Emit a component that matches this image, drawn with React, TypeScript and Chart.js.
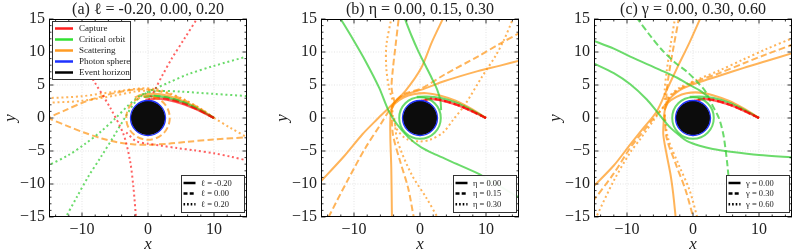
import React, { useEffect, useRef } from "react";
import { Chart, registerables } from "chart.js";
Chart.register(...registerables);

type Pt = [number, number];

// ---------- axes ----------
const axisMin = -15;
const axisMax = 15;
const xMajor = [-10, 0, 10];
const xMinor = [-14, -12, -8, -6, -4, -2, 2, 4, 6, 8, 12, 14];
const yMajor = [-15, -10, -5, 0, 5, 10, 15];
const yMinor = [-14, -13, -12, -11, -9, -8, -7, -6, -4, -3, -2, -1, 1, 2, 3, 4, 6, 7, 8, 9, 11, 12, 13, 14];
const gridValues = [-10, -5, 0, 5, 10];

// ---------- texts ----------
const panelTitles = ["(a) ℓ = -0.20, 0.00, 0.20", "(b) η = 0.00, 0.15, 0.30", "(c) γ = 0.00, 0.30, 0.60"];
const paramLabelsA = ["ℓ = -0.20", "ℓ = 0.00", "ℓ = 0.20"];
const paramLabelsB = ["η = 0.00", "η = 0.15", "η = 0.30"];
const paramLabelsC = ["γ = 0.00", "γ = 0.30", "γ = 0.60"];
const typeLabels = ["Capture", "Critical orbit", "Scattering", "Photon sphere", "Event horizon"];

// ---------- black hole radii ----------
const horizonRadius = 2.6;
const photonRadius = 2.65;
const aOrbitRingRadius = 3.3;
const bOrbitRingRadius = 3.15;
const cOrbitRingRadius = 3.15;

// ---------- panel (a) ----------
const aCapSolid: Pt[] = [[10, 0], [8, 1.0], [5.5, 2.05], [3, 2.75], [1.2, 2.95], [0, 2.75]];
const aCapDashed: Pt[] = [[10, 0], [8, 1.05], [5.5, 2.15], [3, 2.85], [1, 3.0], [-0.4, 2.75]];
const aCapDotted1: Pt[] = [[7.6, 15.3], [5.5, 12], [3.6, 9], [2.2, 6.5], [1.0, 4.2], [0.3, 2.9]];
const aCapDotted2: Pt[] = [[-10.3, 9], [-8.2, 5.6], [-5.7, 1.5], [-3.7, -2.5], [-2.7, -6.6], [-2.2, -10.6], [-1.8, -15.3]];
const aCapDotted3: Pt[] = [[-3.3, -2.2], [-1.8, -3.5], [0, -3.9], [2, -4.2], [4.4, -4.55], [7, -4.9], [10, -5.35], [12.5, -5.85], [15.3, -6.5]];
const aCritSolid: Pt[] = [[10, 0], [8, 1.12], [5.5, 2.3], [3, 3.05], [1, 3.3], [-0.6, 3.2]];
const aCritDashed: Pt[] = [[10, 0], [8, 1.15], [5.5, 2.35], [3, 3.1], [1, 3.35], [-0.8, 3.2]];
const aCritDotted1: Pt[] = [[-15.3, -7.3], [-12, -5.6], [-9.5, -3.9], [-7.2, -2.1], [-5, -0.1], [-3, 1.9], [-1.5, 3.2], [0.5, 4.2], [3, 5.3], [6, 6.6], [10, 7.9], [15.3, 9.4]];
const aCritDotted2: Pt[] = [[-12.6, -15.3], [-10.8, -12], [-9, -8.8], [-7.2, -6], [-5.2, -2.8], [-3.4, 0.2], [-1.8, 2.6], [-0.2, 3.8], [2, 4.1], [5, 4.0], [10, 3.65], [15.3, 3.3]];
const aScatSolid: Pt[] = [[10, 0], [8, 1.25], [5.4, 2.55], [3, 3.35], [1, 3.65], [-1, 3.5], [-2, 3.1]];
const aScatDashed1: Pt[] = [[10, 0], [8, 1.35], [5.4, 2.75], [3, 3.7], [1, 4.2], [-1, 4.35], [-3, 4.2], [-4.7, 3.85], [-7, 3.3], [-9.7, 2.4], [-12.5, 1.2], [-15.3, -0.05]];
const aScatDashed2: Pt[] = [[-15.3, 0.05], [-12, -1.3], [-9.7, -2.2], [-7, -3.1], [-4.5, -3.7], [-2, -4.0], [0, -4.05], [3, -3.9], [6, -3.6], [10, -3.25], [15.3, -2.9]];
const aScatDotted1: Pt[] = [[10, 0], [8, 1.4], [5.4, 2.85], [3, 3.85], [1, 4.4], [-1, 4.5], [-5, 4.0], [-10, 3.3], [-15.3, 3.0]];
const aScatDotted2: Pt[] = [[1, 4.25], [-2, 4.0], [-5, 3.4], [-10, 2.6], [-15.3, 2.3]];
const aScatDotted3: Pt[] = [[10, 0], [12.5, -1.5], [15.3, -3.1]];

// ---------- panel (b) ----------
const bCapSolid: Pt[] = [[10, 0], [8, 0.95], [5.5, 2.0], [3, 2.7], [1.5, 2.85], [0.4, 2.65]];
const bCapDashed: Pt[] = [[10, 0], [8, 0.97], [5.5, 2.03], [3, 2.74], [1.5, 2.88], [0.3, 2.65]];
const bCapDotted: Pt[] = [[10, 0], [8, 0.99], [5.5, 2.06], [3, 2.78], [1.5, 2.92], [0.2, 2.65]];
const bCritArc: Pt[] = [[10, 0], [8, 1.1], [5.5, 2.3], [3, 3.05], [1, 3.25], [-0.5, 3.2]];
const bCritSolid1: Pt[] = [[-12.2, 15.3], [-10.2, 12], [-8.25, 8.6], [-6.2, 4.6], [-4.8, 1.2], [-3.6, -0.8], [-1.8, -2.9], [0.25, -4.5], [2.5, -5.6], [4.75, -6.6], [8.75, -8.4], [12, -10.3], [15.3, -12.2]];
const bCritSolid2: Pt[] = [[-2.4, 15.3], [-1.3, 12.5], [-0.25, 10.1], [0.9, 7.8], [1.75, 6.1], [2.6, 4.3], [3.1, 2.6], [3.2, 1.2]];
const bScatArc: Pt[] = [[10, 0], [8, 1.25], [5.4, 2.6], [3, 3.4], [1, 3.75], [-1, 3.6], [-2.5, 3.1], [-3.8, 2.2], [-4.4, 1.2]];
const bScatSolid1: Pt[] = [[3.6, 15.3], [1.8, 11.5], [0.2, 7.6], [-2.2, 4.1], [-4.25, 2.0], [-6.5, -0.2], [-8.75, -2.5], [-11.5, -5.8], [-15.3, -9.9]];
const bScatSolid2: Pt[] = [[15.3, 8.75], [12, 7.9], [8.75, 7.1], [3.75, 5.6], [0.25, 4.3], [-2.25, 3.5], [-3.75, 2.5], [-4.4, 1.0], [-4.5, -2.5], [-4.35, -7.6], [-4.25, -15.3]];
const bScatDashed1: Pt[] = [[-3.8, 2.2], [-4.3, 4.5], [-4.1, 7.5], [-3.7, 11], [-3.2, 15.3]];
const bScatDashed2: Pt[] = [[15.3, 13], [12, 11.2], [8.75, 9.3], [3.75, 6.6], [0.25, 4.5], [-2.5, 3.6], [-3.9, 2.4]];
const bScatDashed3: Pt[] = [[-3.9, 2.4], [-6, -1], [-8.25, -4.5], [-11, -9.5], [-14, -15.3]];
const bScatDashed4: Pt[] = [[-4.3, 1.2], [-4.1, -2.5], [-3, -6.6], [-1.8, -10.6], [-0.9, -15.3]];
const bScatDotted1: Pt[] = [[-4.3, 15.3], [-5.1, 11], [-5.1, 7.5], [-4.7, 4.6], [-4.1, 2.5]];
const bScatDotted2: Pt[] = [[14.2, 15.3], [12.8, 12], [11.5, 9.5], [9.3, 6.1], [6.8, 2.0], [5, -0.3], [3.5, -2.2], [1.5, -3.3], [0, -3.55], [-2, -3.2], [-3.5, -1.7], [-4.1, 0.3], [-4.2, 2]];
const bScatDotted3: Pt[] = [[-3.9, 0], [-3.4, -3.5], [-1.25, -8.6], [0.9, -12], [2.8, -15.3]];

// ---------- panel (c) ----------
const cCapSolid: Pt[] = [[10, 0], [8, 0.95], [5.5, 2.0], [3, 2.7], [1.5, 2.85], [0.4, 2.65]];
const cCapDashed: Pt[] = [[10, 0], [8, 0.97], [5.5, 2.03], [3, 2.74], [1.5, 2.88], [0.3, 2.65]];
const cCapDotted: Pt[] = [[10, 0], [8, 0.99], [5.5, 2.06], [3, 2.78], [1.5, 2.92], [0.2, 2.65]];
const cCritArc: Pt[] = [[10, 0], [8, 1.1], [5.5, 2.3], [3, 3.05], [1, 3.25], [-0.5, 3.2]];
const cCritSolid1: Pt[] = [[-15.3, 11.8], [-12, 10.5], [-9.5, 9.3], [-5, 7.3], [-2.4, 6.1], [-0.5, 5.0], [1, 4.2], [2.2, 3.3]];
const cCritSolid2: Pt[] = [[-15.3, 8.4], [-12, 6.8], [-9.5, 5.1], [-7, 2.8], [-5.5, 1.0], [-4.2, -0.6], [-3.4, -1.5], [-2, -2.7], [-0.9, -3.5], [1, -4.2], [3, -4.7], [5.7, -5.1], [10, -5.6], [15.3, -6.0]];
const cCritDashed: Pt[] = [[-8.6, 15.3], [-6.5, 12.5], [-4.5, 10.1], [-2.6, 8.3], [-0.9, 7.0], [0.8, 5.3], [1.9, 4.0], [2.9, 2.0], [3.7, 0.5], [4.1, -0.5], [4.6, -2.5], [4.9, -4.5], [5.2, -7], [5.4, -9.1]];
const cScatArc: Pt[] = [[10, 0], [8, 1.25], [5.4, 2.6], [3, 3.45], [1, 3.85], [-1, 3.75], [-2.5, 3.2], [-3.8, 2.3], [-4.3, 1.2]];
const cScatSolid1: Pt[] = [[1.2, 15.3], [-0.5, 11.5], [-2.4, 7.6], [-4, 4.2], [-5.5, 1.0], [-7.5, -1.5], [-9.5, -4.0], [-12, -7.2], [-15.3, -10.6]];
const cScatSolid2: Pt[] = [[15.3, 9.9], [11, 8.6], [7.7, 7.6], [4, 6.4], [0.6, 5.3], [-1.5, 4.5], [-2.6, 3.8], [-3.6, 2.8], [-4.2, 1.5], [-4.4, 0], [-4.5, -2.5], [-4.0, -5.5], [-3.4, -8.6], [-3, -11.5], [-2.6, -15.3]];
const cScatDashed1: Pt[] = [[-2.1, 15.3], [-2.9, 11], [-3.6, 7], [-4, 4], [-4, 2.4]];
const cScatDashed2: Pt[] = [[15.3, 11.2], [11, 9.6], [7.7, 8.3], [4, 6.8], [0.6, 5.6], [-2, 4.4], [-3.5, 3.2], [-4, 2.2]];
const cScatDashed3: Pt[] = [[-4, 2.2], [-6, -0.1], [-8, -2.6], [-9.5, -4.5], [-12, -8.4], [-15.3, -12.8]];
const cScatDashed4: Pt[] = [[-4.3, 0.5], [-4, -3], [-2.6, -7], [-1.1, -11], [0.1, -15.3]];
const cScatDotted1: Pt[] = [[-2.7, 15.3], [-3.4, 11], [-4, 7], [-4.3, 4], [-4.2, 2.4]];
const cScatDotted2: Pt[] = [[15.3, 12.2], [11, 10.4], [7.7, 8.9], [4, 7.2], [0.6, 5.8], [-2, 4.6], [-3.6, 3.3], [-4.1, 2.2]];
const cScatDotted3: Pt[] = [[-4.1, 2.2], [-6, -0.4], [-8, -3.2], [-9.5, -5.2], [-12, -9.5], [-14.8, -15.3]];
const cScatDotted4: Pt[] = [[-4.3, 0.5], [-3.8, -3], [-2.2, -7], [-0.5, -11], [0.7, -15.3]];

// ---------- styles ----------
const SERIF = "'Liberation Serif', 'DejaVu Serif', serif";
const RED = "rgba(255,0,0,0.62)";
const GREEN = "rgba(50,205,50,0.72)";
const ORANGE = "rgba(255,140,0,0.65)";
const legendColors = ["rgb(255,30,30)", "rgb(50,225,50)", "rgb(255,155,35)", "rgb(30,50,255)", "#000"];
type Style = "solid" | "dashed" | "dotted";
const DASH: Record<Style, number[]> = { solid: [], dashed: [6.5, 3.2], dotted: [2, 2.8] };

function line(label: string, pts: Pt[], color: string, style: Style, width = 2) {
  return {
    label,
    data: pts.map(([x, y]) => ({ x, y })),
    showLine: true,
    borderColor: color,
    backgroundColor: color,
    borderWidth: width,
    borderDash: DASH[style],
    pointRadius: 0,
    pointHoverRadius: 0,
    tension: 0.3,
    fill: false,
    borderCapStyle: "butt",
  };
}

type Ring = { radius: number; color: string; style: Style; width: number };
type PanelSpec = {
  key: string;
  left: number;
  width: number;
  rightPad: number;
  title: string;
  params: string[];
  typeLegend: boolean;
  rings: Ring[];
  datasets: any[];
};

const panels: PanelSpec[] = [
  {
    key: "a", left: 0, width: 250, rightPad: 3, title: panelTitles[0], params: paramLabelsA, typeLegend: true,
    rings: [{ radius: aOrbitRingRadius, color: ORANGE, style: "dashed", width: 2 }],
    datasets: [
      line("Capture", aCapSolid, RED, "solid", 2.2),
      line("Capture", aCapDashed, RED, "dashed", 2.2),
      line("Capture", aCapDotted1, RED, "dotted"),
      line("Capture", aCapDotted2, RED, "dotted"),
      line("Capture", aCapDotted3, RED, "dotted"),
      line("Critical orbit", aCritSolid, GREEN, "solid", 2.2),
      line("Critical orbit", aCritDashed, GREEN, "dashed", 2.2),
      line("Critical orbit", aCritDotted1, GREEN, "dotted"),
      line("Critical orbit", aCritDotted2, GREEN, "dotted"),
      line("Scattering", aScatSolid, ORANGE, "solid", 2.2),
      line("Scattering", aScatDashed1, ORANGE, "dashed"),
      line("Scattering", aScatDashed2, ORANGE, "dashed"),
      line("Scattering", aScatDotted1, ORANGE, "dotted"),
      line("Scattering", aScatDotted2, ORANGE, "dotted"),
      line("Scattering", aScatDotted3, ORANGE, "dotted"),
    ],
  },
  {
    key: "b", left: 272, width: 250, rightPad: 3, title: panelTitles[1], params: paramLabelsB, typeLegend: false,
    rings: [{ radius: bOrbitRingRadius, color: GREEN, style: "solid", width: 2 }],
    datasets: [
      line("Capture", bCapSolid, RED, "solid", 2.2),
      line("Capture", bCapDashed, RED, "dashed", 2.2),
      line("Capture", bCapDotted, RED, "dotted", 2.2),
      line("Critical orbit", bCritArc, GREEN, "solid", 2.2),
      line("Critical orbit", bCritSolid1, GREEN, "solid"),
      line("Critical orbit", bCritSolid2, GREEN, "solid"),
      line("Scattering", bScatArc, ORANGE, "solid", 2.2),
      line("Scattering", bScatSolid1, ORANGE, "solid"),
      line("Scattering", bScatSolid2, ORANGE, "solid"),
      line("Scattering", bScatDashed1, ORANGE, "dashed"),
      line("Scattering", bScatDashed2, ORANGE, "dashed"),
      line("Scattering", bScatDashed3, ORANGE, "dashed"),
      line("Scattering", bScatDashed4, ORANGE, "dashed"),
      line("Scattering", bScatDotted1, ORANGE, "dotted"),
      line("Scattering", bScatDotted2, ORANGE, "dotted"),
      line("Scattering", bScatDotted3, ORANGE, "dotted"),
    ],
  },
  {
    key: "c", left: 545, width: 248, rightPad: 1, title: panelTitles[2], params: paramLabelsC, typeLegend: false,
    rings: [{ radius: cOrbitRingRadius, color: GREEN, style: "solid", width: 2 }],
    datasets: [
      line("Capture", cCapSolid, RED, "solid", 2.2),
      line("Capture", cCapDashed, RED, "dashed", 2.2),
      line("Capture", cCapDotted, RED, "dotted", 2.2),
      line("Critical orbit", cCritArc, GREEN, "solid", 2.2),
      line("Critical orbit", cCritSolid1, GREEN, "solid"),
      line("Critical orbit", cCritSolid2, GREEN, "solid"),
      line("Critical orbit", cCritDashed, GREEN, "dashed"),
      line("Scattering", cScatArc, ORANGE, "solid", 2.2),
      line("Scattering", cScatSolid1, ORANGE, "solid"),
      line("Scattering", cScatSolid2, ORANGE, "solid"),
      line("Scattering", cScatDashed1, ORANGE, "dashed"),
      line("Scattering", cScatDashed2, ORANGE, "dashed"),
      line("Scattering", cScatDashed3, ORANGE, "dashed"),
      line("Scattering", cScatDashed4, ORANGE, "dashed"),
      line("Scattering", cScatDotted1, ORANGE, "dotted"),
      line("Scattering", cScatDotted2, ORANGE, "dotted"),
      line("Scattering", cScatDotted3, ORANGE, "dotted"),
      line("Scattering", cScatDotted4, ORANGE, "dotted"),
    ],
  },
];

const Y_AXIS_WIDTH = 49;
const X_AXIS_HEIGHT = 35;

function fmt(v: number) {
  return v < 0 ? "\u2212" + Math.abs(v) : String(v);
}

function makeDecor(p: PanelSpec) {
  return {
    id: "decor" + p.key,
    beforeDatasetsDraw(chart: any) {
      const { ctx, chartArea: a, scales } = chart;
      ctx.save();
      ctx.strokeStyle = "rgba(0,0,0,0.14)";
      ctx.lineWidth = 0.8;
      ctx.setLineDash([1, 1.6]);
      ctx.beginPath();
      xMajor.forEach((v) => {
        const px = scales.x.getPixelForValue(v);
        ctx.moveTo(px, a.top);
        ctx.lineTo(px, a.bottom);
      });
      gridValues.forEach((v) => {
        const py = scales.y.getPixelForValue(v);
        ctx.moveTo(a.left, py);
        ctx.lineTo(a.right, py);
      });
      ctx.stroke();
      ctx.restore();
    },
    afterDatasetsDraw(chart: any) {
      const { ctx, chartArea: a, scales } = chart;
      const cx = scales.x.getPixelForValue(0);
      const cy = scales.y.getPixelForValue(0);
      const ux = scales.x.getPixelForValue(1) - cx;
      ctx.save();
      ctx.beginPath();
      ctx.rect(a.left, a.top, a.right - a.left, a.bottom - a.top);
      ctx.clip();
      p.rings.forEach((r) => {
        ctx.strokeStyle = r.color;
        ctx.lineWidth = r.width;
        ctx.setLineDash(DASH[r.style]);
        ctx.beginPath();
        ctx.arc(cx, cy, r.radius * ux, 0, Math.PI * 2);
        ctx.stroke();
      });
      ctx.setLineDash([]);
      ctx.fillStyle = "#0c0c0c";
      ctx.beginPath();
      ctx.arc(cx, cy, horizonRadius * ux, 0, Math.PI * 2);
      ctx.fill();
      ctx.strokeStyle = "rgba(20,40,255,0.95)";
      ctx.lineWidth = 1.3;
      ctx.beginPath();
      ctx.arc(cx, cy, photonRadius * ux, 0, Math.PI * 2);
      ctx.stroke();
      ctx.restore();
    },
    afterDraw(chart: any) {
      const { ctx, chartArea: a, scales } = chart;
      ctx.save();
      // frame
      ctx.strokeStyle = "#000";
      ctx.lineWidth = 1;
      ctx.setLineDash([]);
      ctx.strokeRect(a.left + 0.5, a.top + 0.5, a.right - a.left - 1, a.bottom - a.top - 1);
      // inward ticks
      ctx.lineWidth = 0.8;
      ctx.beginPath();
      const tickX = (vals: number[], len: number) =>
        vals.forEach((v) => {
          const px = scales.x.getPixelForValue(v);
          ctx.moveTo(px, a.bottom);
          ctx.lineTo(px, a.bottom - len);
          ctx.moveTo(px, a.top);
          ctx.lineTo(px, a.top + len);
        });
      const tickY = (vals: number[], len: number) =>
        vals.forEach((v) => {
          const py = scales.y.getPixelForValue(v);
          ctx.moveTo(a.left, py);
          ctx.lineTo(a.left + len, py);
          ctx.moveTo(a.right, py);
          ctx.lineTo(a.right - len, py);
        });
      tickX(xMajor, 4.5);
      tickX(xMinor, 2.5);
      tickY(yMajor, 4.5);
      tickY(yMinor, 2.5);
      ctx.stroke();

      // type legend (top-left)
      if (p.typeLegend) {
        const bx = a.left + 3, by = a.top + 2, bw = 79, bh = 59;
        ctx.fillStyle = "rgba(255,255,255,0.95)";
        ctx.fillRect(bx, by, bw, bh);
        ctx.strokeStyle = "#333";
        ctx.lineWidth = 1;
        ctx.strokeRect(bx + 0.5, by + 0.5, bw - 1, bh - 1);
        ctx.font = `9px ${SERIF}`;
        ctx.textBaseline = "middle";
        ctx.textAlign = "left";
        typeLabels.forEach((lab, i) => {
          const ry = by + 7.5 + i * 11;
          ctx.strokeStyle = legendColors[i];
          ctx.lineWidth = 2.5;
          ctx.beginPath();
          ctx.moveTo(bx + 3, ry);
          ctx.lineTo(bx + 21, ry);
          ctx.stroke();
          ctx.fillStyle = "#222";
          ctx.fillText(lab, bx + 27, ry + 0.5);
        });
      }

      // parameter legend (bottom-right)
      {
        const bw = 64, bh = 38;
        const bx = a.right - 2 - bw, by = a.bottom - 4 - bh;
        ctx.fillStyle = "rgba(255,255,255,0.95)";
        ctx.fillRect(bx, by, bw, bh);
        ctx.strokeStyle = "#333";
        ctx.lineWidth = 1;
        ctx.strokeRect(bx + 0.5, by + 0.5, bw - 1, bh - 1);
        ctx.font = `8.5px ${SERIF}`;
        ctx.textBaseline = "middle";
        ctx.textAlign = "left";
        const styles: Style[] = ["solid", "dashed", "dotted"];
        const sampleDash: Record<Style, number[]> = { solid: [], dashed: [4, 2.2], dotted: [1.6, 2] };
        p.params.forEach((lab, i) => {
          const ry = by + 8 + i * 10.6;
          ctx.strokeStyle = "#000";
          ctx.lineWidth = 2.5;
          ctx.setLineDash(sampleDash[styles[i]]);
          ctx.beginPath();
          ctx.moveTo(bx + 2.5, ry);
          ctx.lineTo(bx + 14.5, ry);
          ctx.stroke();
          ctx.setLineDash([]);
          ctx.fillStyle = "#222";
          ctx.fillText(lab, bx + 20, ry + 0.5);
        });
      }
      ctx.restore();
    },
  };
}

function Panel({ p }: { p: PanelSpec }) {
  const ref = useRef<HTMLCanvasElement>(null);
  useEffect(() => {
    const tickFont = { family: SERIF, size: 16 };
    const chart = new Chart(ref.current as HTMLCanvasElement, {
      type: "scatter",
      data: { datasets: p.datasets },
      options: {
        responsive: false,
        animation: false,
        events: [],
        layout: { padding: { left: 0, right: p.rightPad, top: 0, bottom: 0 } },
        plugins: {
          legend: { display: false },
          tooltip: { enabled: false },
          title: {
            display: true,
            fullSize: false,
            text: p.title,
            color: "#222",
            font: { family: SERIF, size: 16, weight: "normal", lineHeight: 1.1875 },
            padding: { top: 0, bottom: 0 },
          },
        },
        scales: {
          x: {
            type: "linear",
            min: axisMin,
            max: axisMax,
            afterBuildTicks: (s: any) => {
              s.ticks = xMajor.map((v) => ({ value: v }));
            },
            afterFit: (s: any) => {
              s.height = X_AXIS_HEIGHT;
            },
            grid: { display: false, drawTicks: false },
            border: { display: false },
            ticks: { color: "#222", font: tickFont, padding: 3, maxRotation: 0, autoSkip: false, callback: (v: any) => fmt(Number(v)) },
            title: { display: true, text: "x", color: "#222", font: { family: SERIF, size: 17, style: "italic", lineHeight: 0.9 }, padding: 0 },
          },
          y: {
            type: "linear",
            min: axisMin,
            max: axisMax,
            afterBuildTicks: (s: any) => {
              s.ticks = yMajor.map((v) => ({ value: v }));
            },
            afterFit: (s: any) => {
              s.width = Y_AXIS_WIDTH;
            },
            grid: { display: false, drawTicks: false },
            border: { display: false },
            ticks: { color: "#222", font: tickFont, padding: 4, autoSkip: false, callback: (v: any) => fmt(Number(v)) },
            title: { display: true, text: "y", color: "#222", font: { family: SERIF, size: 17, style: "italic" }, padding: 0 },
          },
        },
      } as any,
      plugins: [makeDecor(p)],
    });
    return () => chart.destroy();
  }, [p]);
  return (
    <canvas
      ref={ref}
      width={p.width}
      height={252}
      style={{ position: "absolute", left: p.left, top: 0, width: p.width, height: 252 }}
    />
  );
}

export default function App() {
  return (
    <div style={{ position: "absolute", left: 0, top: 0, width: 793, height: 252, background: "#fff", overflow: "hidden" }}>
      {panels.map((p) => (
        <Panel key={p.key} p={p} />
      ))}
    </div>
  );
}
